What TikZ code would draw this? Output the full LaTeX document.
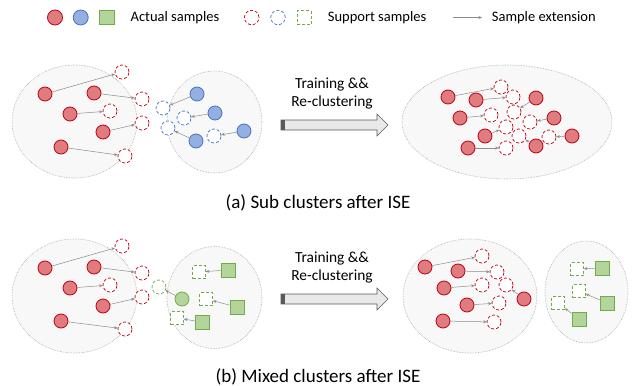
\documentclass[tikz,border=0pt]{standalone}
\usepackage{fontspec}
\setmainfont{Carlito}
\usetikzlibrary{arrows.meta,shapes.geometric}
\definecolor{redfill}{HTML}{E07B80}
\definecolor{redline}{HTML}{C0000F}
\definecolor{bluefill}{HTML}{95B0E0}
\definecolor{blueline}{HTML}{4472C4}
\definecolor{greenfill}{HTML}{B3D59B}
\definecolor{greenline}{HTML}{70AD47}
\definecolor{clfill}{HTML}{F8F8F8}
\definecolor{clline}{HTML}{A6A6A6}
\definecolor{arrgray}{HTML}{8C8C8C}
\tikzset{
  cluster/.style={draw=clline,fill=clfill,densely dotted,line width=0.6pt},
  redact/.style={circle,draw=redline,fill=redfill,line width=0.8pt,minimum size=14pt,inner sep=0pt},
  redsup/.style={circle,draw=redline,fill=white,densely dashed,line width=0.7pt,minimum size=14pt,inner sep=0pt},
  blueact/.style={circle,draw=blueline,fill=bluefill,line width=0.8pt,minimum size=14pt,inner sep=0pt},
  bluesup/.style={circle,draw=blueline,fill=white,densely dashed,line width=0.7pt,minimum size=14pt,inner sep=0pt},
  greenact/.style={circle,draw=greenline,fill=greenfill,line width=0.8pt,minimum size=14pt,inner sep=0pt},
  greensup/.style={circle,draw=greenline,fill=white,densely dashed,line width=0.7pt,minimum size=14pt,inner sep=0pt},
  greensq/.style={rectangle,draw=greenline,fill=greenfill,line width=0.8pt,minimum size=14pt,inner sep=0pt},
  greensqsup/.style={rectangle,draw=greenline,fill=white,densely dashed,line width=0.7pt,minimum size=13pt,inner sep=0pt},
  ext/.style={draw=arrgray,line width=0.5pt,-{Stealth[length=3.5pt,width=3pt]}},
  bigarrow/.style={draw=gray!70!black,fill=gray!18,line width=0.6pt},
  lab/.style={font=\fontsize{15.4}{18}\selectfont,align=center,inner sep=0pt},
  captxt/.style={font=\fontsize{19}{22}\selectfont,inner sep=0pt},
  leg/.style={font=\fontsize{14.5}{17}\selectfont,anchor=west,inner sep=0pt},
}
\begin{document}
\begin{tikzpicture}[x=1pt,y=-1pt]
\useasboundingbox (0,0) rectangle (633,386);

% ---------- Legend ----------
\node[redact,minimum size=15pt] (lr) at (55,17.5) {};
\node[blueact,minimum size=15pt] (lb) at (80.7,17.5) {};
\node[greensq,minimum size=14.5pt] (lg) at (107,17.5) {};
\node[leg] (lta) at (130.5,17.5) {Actual samples};
\node[redsup,minimum size=14.5pt] (lsr) at (251.7,17.5) {};
\node[bluesup,minimum size=14.5pt] (lsb) at (278,17.5) {};
\node[greensqsup,minimum size=14pt] (lsg) at (304,17.5) {};
\node[leg] (lts) at (327.7,17.5) {Support samples};
\coordinate (la1) at (452.7,17.5);
\coordinate (la2) at (482,17.5);
\draw[ext] (la1) -- (la2);
\node[leg] (lte) at (491.7,17.5) {Sample extension};

% ---------- Panel (a) ----------
\draw[cluster] (74.5,121.5) ellipse [x radius=62.5pt,y radius=56.5pt];
\draw[cluster] (214.5,122) ellipse [x radius=47.5pt,y radius=51pt];
\draw[cluster] (507,122) ellipse [x radius=105pt,y radius=57pt];

% left red cluster
\node[redact] (a1) at (45,94) {};
\node[redact] (a2) at (94,93) {};
\node[redact] (a3) at (70,114) {};
\node[redact] (a4) at (103,132) {};
\node[redact] (a5) at (61,147) {};
\node[redsup] (s1) at (122,72) {};
\node[redsup] (s2) at (142,99) {};
\node[redsup] (s3) at (110,111) {};
\node[redsup] (s4) at (142,123) {};
\node[redsup] (s5) at (125,156) {};
\draw[ext] (a1) -- (s1);
\draw[ext] (a2) -- (s2);
\draw[ext] (a3) -- (s3);
\draw[ext] (a4) -- (s4);
\draw[ext] (a5) -- (s5);

% blue cluster
\node[blueact] (b1) at (197,94) {};
\node[blueact] (b2) at (215,113) {};
\node[blueact] (b3) at (244,131) {};
\node[blueact] (b4) at (196,141) {};
\node[bluesup] (t1) at (163,108) {};
\node[bluesup] (t2) at (184,118) {};
\node[bluesup] (t3) at (214,136) {};
\node[bluesup] (t4) at (168,128) {};
\draw[ext] (b1) -- (t1);
\draw[ext] (b2) -- (t2);
\draw[ext] (b3) -- (t3);
\draw[ext] (b4) -- (t4);

% big arrow (a)
\draw[bigarrow] (281,120) -- (377,120) -- (377,114) -- (388,125) -- (377,136) -- (377,130) -- (281,130) -- cycle;
\fill[gray!70!black] (281,120) rectangle (285,130);
\node[lab] (ta) at (332,94) {Training \&\&\\Re-clustering};

% merged cluster
\node[redact] (m1) at (448,97) {};
\node[redact] (m2) at (476,100) {};
\node[redact] (m3) at (536,98) {};
\node[redact] (m4) at (460,118) {};
\node[redact] (m5) at (554,118) {};
\node[redact] (m6) at (485,136) {};
\node[redact] (m7) at (572,136) {};
\node[redact] (m8) at (468,148) {};
\node[redact] (m9) at (536,146) {};
\node[redsup] (n1) at (501,87) {};
\node[redsup] (n2) at (513,97) {};
\node[redsup] (n3) at (514,112) {};
\node[redsup] (n4) at (491,115) {};
\node[redsup] (n5) at (530,122) {};
\node[redsup] (n6) at (506,127) {};
\node[redsup] (n7) at (519,136) {};
\node[redsup] (n8) at (549,137) {};
\node[redsup] (n9) at (506,148) {};
\draw[ext] (m1) -- (n1);
\draw[ext] (m2) -- (n2);
\draw[ext] (m3) -- (n3);
\draw[ext] (m4) -- (n4);
\draw[ext] (m5) -- (n5);
\draw[ext] (m6) -- (n6);
\draw[ext] (m7) -- (n8);
\draw[ext] (m8) -- (n9);
\draw[ext] (m9) -- (n7);

\node[captxt] (capa) at (318,203) {(a) Sub clusters after ISE};

% ---------- Panel (b) ----------
\draw[cluster] (74.5,296) ellipse [x radius=62.5pt,y radius=57pt];
\draw[cluster] (214.5,297.5) ellipse [x radius=47.5pt,y radius=51pt];
\draw[cluster] (470,296) ellipse [x radius=67pt,y radius=57pt];
\draw[cluster] (586.5,292) ellipse [x radius=41.5pt,y radius=51pt];

\node[redact] (c1) at (45,268) {};
\node[redact] (c2) at (94,267) {};
\node[redact] (c3) at (70,288) {};
\node[redact] (c4) at (103,306) {};
\node[redact] (c5) at (61,321) {};
\node[redsup] (d1) at (122,246) {};
\node[redsup] (d2) at (142,273) {};
\node[redsup] (d3) at (110,285) {};
\node[redsup] (d4) at (142,297) {};
\node[redsup] (d5) at (125,329) {};
\draw[ext] (c1) -- (d1);
\draw[ext] (c2) -- (d2);
\draw[ext] (c3) -- (d3);
\draw[ext] (c4) -- (d4);
\draw[ext] (c5) -- (d5);

\node[greensq] (g1) at (228,270) {};
\node[greensq] (g2) at (237,307) {};
\node[greensq] (g3) at (202,322) {};
\node[greenact] (g4) at (182,299) {};
\node[greensqsup] (h1) at (199,272) {};
\node[greensqsup] (h2) at (206,299) {};
\node[greensqsup] (h3) at (177,318) {};
\node[greensup] (h4) at (159,287) {};
\draw[ext] (g1) -- (h1);
\draw[ext] (g2) -- (h2);
\draw[ext] (g3) -- (h3);
\draw[ext] (g4) -- (h4);

\draw[bigarrow] (281,294) -- (377,294) -- (377,288) -- (388,299) -- (377,310) -- (377,304) -- (281,304) -- cycle;
\fill[gray!70!black] (281,294) rectangle (285,304);
\node[lab] (tb) at (332,268) {Training \&\&\\Re-clustering};

\node[redact] (e1) at (425,267) {};
\node[redact] (e2) at (458,271) {};
\node[redact] (e3) at (444,288) {};
\node[redact] (e4) at (524,299) {};
\node[redact] (e5) at (467,305) {};
\node[redact] (e6) at (443,321) {};
\node[redsup] (f1) at (482,256) {};
\node[redsup] (f2) at (497,272) {};
\node[redsup] (f3) at (482,285) {};
\node[redsup] (f4) at (506,285) {};
\node[redsup] (f5) at (499,303) {};
\node[redsup] (f6) at (494,322) {};
\draw[ext] (e1) -- (f1);
\draw[ext] (e2) -- (f2);
\draw[ext] (e3) -- (f3);
\draw[ext] (e4) -- (f4);
\draw[ext] (e5) -- (f5);
\draw[ext] (e6) -- (f6);

\node[greensq] (k1) at (602,268) {};
\node[greensq] (k2) at (607,303) {};
\node[greensq] (k3) at (579,319) {};
\node[greensqsup] (l1) at (577,269) {};
\node[greensqsup] (l2) at (579,291) {};
\node[greensqsup] (l3) at (558,303) {};
\draw[ext] (k1) -- (l1);
\draw[ext] (k2) -- (l2);
\draw[ext] (k3) -- (l3);

\node[captxt] (capb) at (318,377) {(b) Mixed clusters after ISE};
\end{tikzpicture}
\end{document}
